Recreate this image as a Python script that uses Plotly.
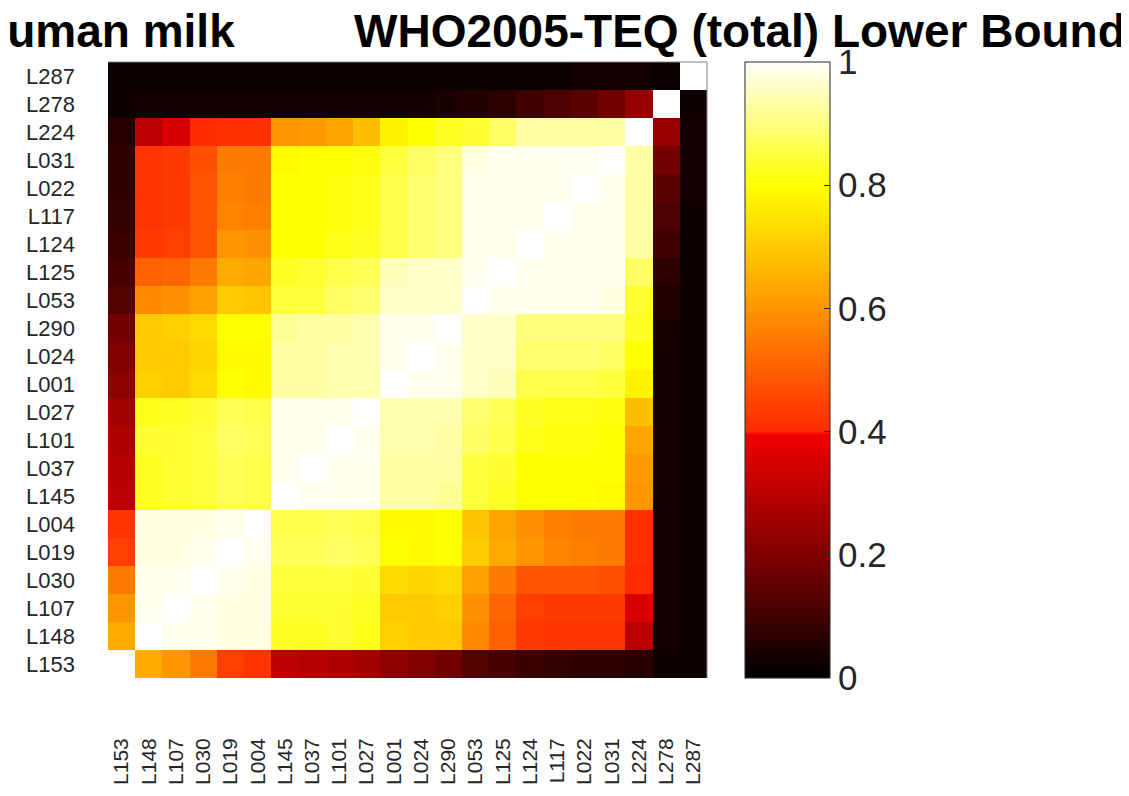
import plotly.graph_objects as go

## sample labels (same order on both axes, first one at bottom / left)
samples = ['L153', 'L148', 'L107', 'L030', 'L019', 'L004', 'L145', 'L037', 'L101', 'L027', 'L001',
           'L024', 'L290', 'L053', 'L125', 'L124', 'L117', 'L022', 'L031', 'L224', 'L278', 'L287']

## lower triangle of the correlation matrix, row i holds columns 0 .. i-1
lower = [
    [],
    [0.64],
    [0.60, 0.99],
    [0.55, 0.99, 0.99],
    [0.44, 0.98, 0.98, 0.99],
    [0.42, 0.98, 0.98, 0.98, 0.99],
    [0.30, 0.83, 0.84, 0.85, 0.87, 0.86],
    [0.29, 0.83, 0.84, 0.85, 0.87, 0.86, 0.99],
    [0.28, 0.84, 0.84, 0.85, 0.88, 0.87, 0.99, 0.99],
    [0.26, 0.82, 0.83, 0.84, 0.87, 0.86, 0.99, 0.99, 0.99],
    [0.22, 0.71, 0.70, 0.73, 0.80, 0.79, 0.93, 0.93, 0.94, 0.94],
    [0.20, 0.70, 0.70, 0.72, 0.79, 0.79, 0.93, 0.93, 0.94, 0.94, 0.99],
    [0.18, 0.70, 0.71, 0.73, 0.80, 0.80, 0.92, 0.93, 0.93, 0.94, 0.99, 0.99],
    [0.13, 0.58, 0.59, 0.62, 0.70, 0.69, 0.85, 0.85, 0.88, 0.89, 0.96, 0.96, 0.96],
    [0.11, 0.50, 0.51, 0.55, 0.64, 0.63, 0.83, 0.84, 0.86, 0.87, 0.95, 0.96, 0.96, 0.99],
    [0.09, 0.43, 0.44, 0.48, 0.60, 0.59, 0.80, 0.80, 0.82, 0.83, 0.86, 0.89, 0.90, 0.99, 0.99],
    [0.08, 0.42, 0.43, 0.48, 0.57, 0.56, 0.80, 0.80, 0.81, 0.82, 0.86, 0.89, 0.90, 0.99, 0.99, 0.99],
    [0.07, 0.42, 0.43, 0.48, 0.56, 0.55, 0.80, 0.80, 0.81, 0.82, 0.86, 0.89, 0.90, 0.99, 0.99, 0.99, 0.99],
    [0.07, 0.42, 0.43, 0.47, 0.55, 0.55, 0.79, 0.80, 0.80, 0.81, 0.85, 0.88, 0.90, 0.98, 0.99, 0.99, 0.99, 0.99],
    [0.06, 0.30, 0.35, 0.40, 0.41, 0.41, 0.60, 0.61, 0.63, 0.68, 0.78, 0.80, 0.83, 0.84, 0.88, 0.93, 0.93, 0.93, 0.93],
    [0.02, 0.03, 0.03, 0.03, 0.03, 0.03, 0.03, 0.03, 0.03, 0.03, 0.03, 0.03, 0.04, 0.05, 0.07, 0.10, 0.12, 0.14, 0.18, 0.24],
    [0.02, 0.02, 0.02, 0.02, 0.02, 0.02, 0.02, 0.02, 0.02, 0.02, 0.02, 0.02, 0.02, 0.02, 0.02, 0.02, 0.02, 0.03, 0.03, 0.03, 0.02],
]

cbar_ticks = [0, 0.2, 0.4, 0.6, 0.8, 1]
cbar_text = ['0', '0.2', '0.4', '0.6', '0.8', '1']

## hot-like colour map with the step at 0.4
hot = [
    [0.0, '#000000'], [0.2, '#800000'], [0.395, '#F20000'], [0.4, '#FF2A00'],
    [0.6, '#FF9500'], [0.8, '#FFFF00'], [1.0, '#FFFFFA'],
]

## build full symmetric matrix, diagonal left empty (drawn as white)
n = len(samples)
z = [[None] * n for _ in range(n)]
for i in range(n):
    for j in range(n):
        if j < i:
            z[i][j] = lower[i][j]
        elif j > i:
            z[i][j] = lower[j][i]

## page has an 8 px body margin, so the figure is 8 px smaller and everything sits 8 px up/left
OFF = 8
W, H = 1129 - OFF, 796 - OFF
L, R, T, B = 108 - OFF, 707 - OFF, 62 - OFF, 678 - OFF
font_family = 'Liberation Sans, Arial'

fig = go.Figure(go.Heatmap(
    z=z, x=samples, y=samples,
    colorscale=hot, zmin=0, zmax=1,
    colorbar=dict(
        x=(745 - OFF - L) / (R - L), xanchor='left', xpad=0,
        y=0.5, yanchor='middle', ypad=0, len=1, lenmode='fraction',
        thickness=85, thicknessmode='pixels',
        outlinewidth=1, outlinecolor='#262626',
        tickvals=cbar_ticks, ticktext=cbar_text,
        ticks='inside', ticklen=6, tickcolor='#262626',
        tickfont=dict(family=font_family, size=35, color='#262626'),
    ),
))

fig.update_layout(
    width=W, height=H,
    margin=dict(l=L, r=W - R, t=T, b=H - B, autoexpand=False),
    paper_bgcolor='white', plot_bgcolor='white',
    xaxis=dict(
        type='category', range=[-0.5, n - 0.5], tickangle=-90, automargin=False,
        tickmode='array', tickvals=samples, ticktext=samples,
        showgrid=False, zeroline=False, showline=False, ticks='',
        ticklabelstandoff=55,
        tickfont=dict(family=font_family, size=21, color='#262626'),
    ),
    yaxis=dict(
        type='category', range=[-0.5, n - 0.5], automargin=False,
        tickmode='array', tickvals=samples, ticktext=samples,
        showgrid=False, zeroline=False, showline=False, ticks='',
        ticklabelstandoff=32,
        tickfont=dict(family=font_family, size=22, color='#262626'),
    ),
)

## thin frame on the top and right edges of the axes
fig.add_shape(type='line', xref='paper', yref='paper', x0=0, x1=1, y0=1, y1=1,
              line=dict(color='#808080', width=1))
fig.add_shape(type='line', xref='paper', yref='paper', x0=1, x1=1, y0=0, y1=1,
              line=dict(color='#808080', width=1))

## title, split in two pieces like the original
title_font = dict(family=font_family, size=46, color='black')
title_y = (B - (31 - OFF)) / (B - T)
fig.add_annotation(
    text='<b>Human milk</b>', xref='paper', yref='paper',
    x=(237 - OFF - L) / (R - L), y=title_y, xanchor='right', yanchor='middle',
    showarrow=False, font=title_font,
)
fig.add_annotation(
    text='<b>WHO2005-TEQ (total) Lower Bound</b>', xref='paper', yref='paper',
    x=(352 - OFF - L) / (R - L), y=title_y, xanchor='left', yanchor='middle',
    showarrow=False, font=title_font,
)

fig.write_html('out.html')
